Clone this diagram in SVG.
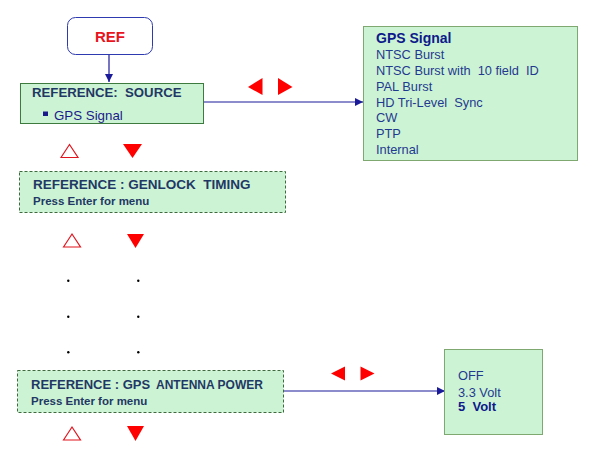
<svg xmlns="http://www.w3.org/2000/svg" width="591" height="473" viewBox="0 0 591 473">
<defs>
<style>
text{font-family:"Liberation Sans",Arial,sans-serif;white-space:pre}
.box{fill:#cdf3d5;stroke:#3d7a3d;stroke-width:1}
.dash{fill:#cdf3d5;stroke:#3d6b3d;stroke-width:1;stroke-dasharray:3,2}
.lst{fill:#cdf3d5;stroke:#7fa870;stroke-width:1}
.h{font-weight:bold;fill:#1f3864}
.hs{font-weight:bold;fill:#1f3864;font-size:11.5px}
.it{fill:#1f3a8f;font-size:12.8px}
.conn{stroke:#1a1a9a;stroke-width:1.2;fill:none}
.up{fill:none;stroke:#e0141e;stroke-width:1.2}
.red{fill:#ff0000}
.dot{fill:#000}
</style>
<marker id="ah" viewBox="0 0 10 10" refX="10" refY="5" markerWidth="8" markerHeight="8" markerUnits="userSpaceOnUse" orient="auto">
<path d="M0,0 L10,5 L0,10 Z" fill="#1a1a9a"/>
</marker>
</defs>
<rect width="591" height="473" fill="#fff"/>

<g id="connectors">
<line class="conn" x1="109" y1="54" x2="109" y2="82" marker-end="url(#ah)"/>
<line class="conn" x1="204" y1="102" x2="363" y2="102" marker-end="url(#ah)"/>
<line class="conn" x1="284" y1="391" x2="445" y2="391" marker-end="url(#ah)"/>
</g>

<g id="ref">
<rect x="67.5" y="17.5" width="85" height="37" rx="8" fill="#fff" stroke="#2e3ab0" stroke-width="1"/>
<text x="110" y="42" text-anchor="middle" font-size="15" font-weight="bold" fill="#e8141e">REF</text>
</g>

<g id="source">
<rect class="box" x="20.5" y="83.5" width="183" height="40"/>
<text class="h" x="32" y="97" font-size="13.2">REFERENCE:  SOURCE</text>
<rect x="43" y="111.5" width="5" height="4.5" fill="#1a1a8a"/>
<text x="54" y="119.5" font-size="13.3" fill="#1a1a8a">GPS Signal</text>
</g>

<g id="gps-list">
<rect class="lst" x="363.5" y="26.5" width="214" height="134"/>
<text x="376" y="43" font-size="14" font-weight="bold" fill="#0d1a8a">GPS Signal</text>
<text class="it" x="376" y="58.5">NTSC Burst</text>
<text class="it" x="376" y="74.5">NTSC Burst with  10 field  ID</text>
<text class="it" x="376" y="90.5">PAL Burst</text>
<text class="it" x="376" y="106.5">HD Tri-Level  Sync</text>
<text class="it" x="376" y="122">CW</text>
<text class="it" x="376" y="138">PTP</text>
<text class="it" x="376" y="153.5">Internal</text>
</g>

<g id="lr-arrows-1">
<polygon class="red" points="248,87 262.5,78 262.5,95"/>
<polygon class="red" points="292.5,87 278,78 278,95"/>
</g>

<g id="updown-1">
<polygon class="up" points="61,157.5 69.5,144.5 78,157.5"/>
<polygon class="red" points="123,144 142,144 132.5,158"/>
</g>

<g id="genlock">
<rect class="dash" x="19.5" y="171.5" width="266" height="41"/>
<text class="h" x="33" y="189" font-size="13.5">REFERENCE : GENLOCK  TIMING</text>
<text class="hs" x="33" y="204.5">Press Enter for menu</text>
</g>

<g id="updown-2">
<polygon class="up" points="63.5,247 72,234 80.5,247"/>
<polygon class="red" points="127,234 144,234 135.5,248"/>
</g>

<g id="dots">
<circle class="dot" cx="68.3" cy="280.7" r="1.2"/>
<circle class="dot" cx="138.3" cy="280.7" r="1.2"/>
<circle class="dot" cx="68.3" cy="316.7" r="1.2"/>
<circle class="dot" cx="138.3" cy="316.7" r="1.2"/>
<circle class="dot" cx="68.3" cy="352.3" r="1.2"/>
<circle class="dot" cx="138.3" cy="352.3" r="1.2"/>
</g>

<g id="antenna">
<rect class="dash" x="17.5" y="370.5" width="266" height="42"/>
<text class="h" x="31" y="388.5" font-size="13">REFERENCE : GPS</text>
<text class="h" x="156" y="388.5" font-size="12">ANTENNA POWER</text>
<text class="hs" x="31" y="404.5">Press Enter for menu</text>
</g>

<g id="lr-arrows-2">
<polygon class="red" points="331,373.5 345,366.5 345,380.5"/>
<polygon class="red" points="374.5,373.5 360.5,366.5 360.5,380.5"/>
</g>

<g id="updown-3">
<polygon class="up" points="63.5,440 72,427 80.5,440"/>
<polygon class="red" points="127,426 144,426 135.5,441"/>
</g>

<g id="power-list">
<rect class="lst" x="444.5" y="349.5" width="98" height="85"/>
<text class="it" x="458" y="380" font-size="12.5">OFF</text>
<text class="it" x="458" y="396.5" font-size="12.5">3.3 Volt</text>
<text x="458" y="411" font-size="13" font-weight="bold" fill="#0d1a8a">5  Volt</text>
</g>
</svg>
